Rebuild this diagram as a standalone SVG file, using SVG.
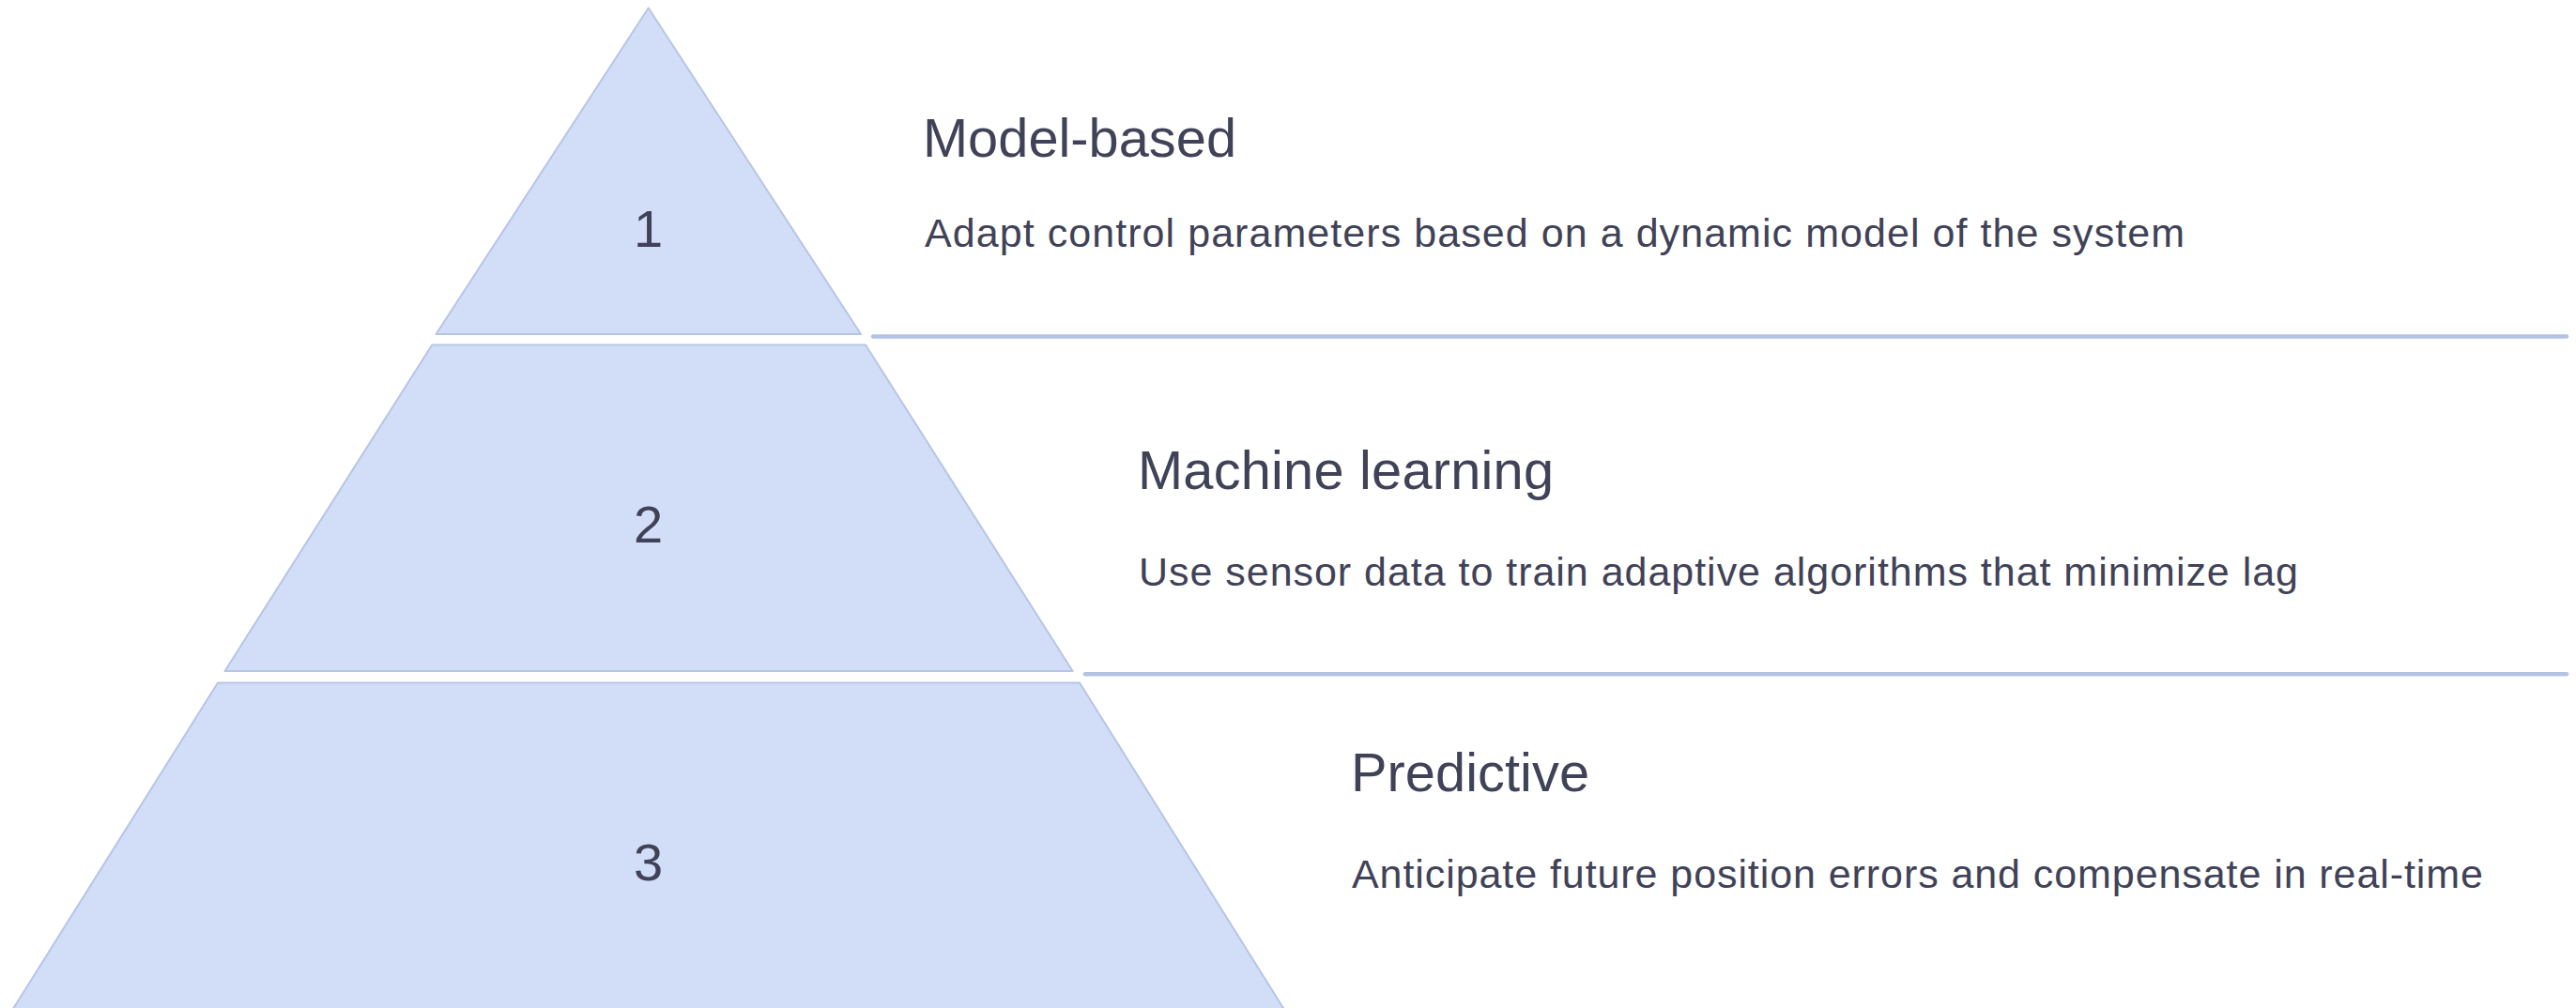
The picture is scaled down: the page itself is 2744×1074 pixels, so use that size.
<svg xmlns="http://www.w3.org/2000/svg" width="2744" height="1074" viewBox="0 0 2744 1074">
  <style>
    .tier { fill: #d2def7; stroke: #b7c5e5; stroke-width: 2; stroke-linejoin: round; }
    .num { font-family: "Liberation Sans", Arial, sans-serif; font-size: 56px; fill: #404258; text-anchor: middle; }
    .title { font-family: "Liberation Sans", Arial, sans-serif; font-size: 57.75px; fill: #404258; }
    .desc { font-family: "Liberation Sans", Arial, sans-serif; font-size: 43px; fill: #404258; }
    .rule { stroke: #b4c2e3; stroke-width: 4.5; stroke-linecap: round; fill: none; }
  </style>
  <rect width="2744" height="1074" fill="#ffffff"/>

  <!-- pyramid tiers -->
  <g id="tier-1">
    <path class="tier" d="M690.7 8.5 L917 356 L464.5 356 Z"/>
    <text class="num" x="690.7" y="263">1</text>
  </g>
  <g id="tier-2">
    <path class="tier" d="M460.2 367.5 L922 367.5 L1142.6 715 L239.5 715 Z"/>
    <text class="num" x="690.7" y="578">2</text>
  </g>
  <g id="tier-3">
    <path class="tier" d="M232 727.5 L1150 727.5 L1372 1082 L9.5 1082 Z"/>
    <text class="num" x="690.7" y="938">3</text>
  </g>

  <!-- separator rules between levels -->
  <g id="connectors">
    <line class="rule" x1="930" y1="358.5" x2="2734" y2="358.5"/>
    <line class="rule" x1="1156" y1="718.3" x2="2734" y2="718.3"/>
  </g>

  <!-- level descriptions -->
  <g id="label-1">
    <text class="title" x="983" y="166.7" textLength="334" lengthAdjust="spacing">Model-based</text>
    <text class="desc" x="985" y="263.3" textLength="1342" lengthAdjust="spacing">Adapt control parameters based on a dynamic model of the system</text>
  </g>
  <g id="label-2">
    <text class="title" x="1212" y="520.7" textLength="443" lengthAdjust="spacing">Machine learning</text>
    <text class="desc" x="1213" y="624" textLength="1235" lengthAdjust="spacing">Use sensor data to train adaptive algorithms that minimize lag</text>
  </g>
  <g id="label-3">
    <text class="title" x="1439" y="842.7" textLength="254" lengthAdjust="spacing">Predictive</text>
    <text class="desc" x="1440" y="946" textLength="1205" lengthAdjust="spacing">Anticipate future position errors and compensate in real-time</text>
  </g>
</svg>
